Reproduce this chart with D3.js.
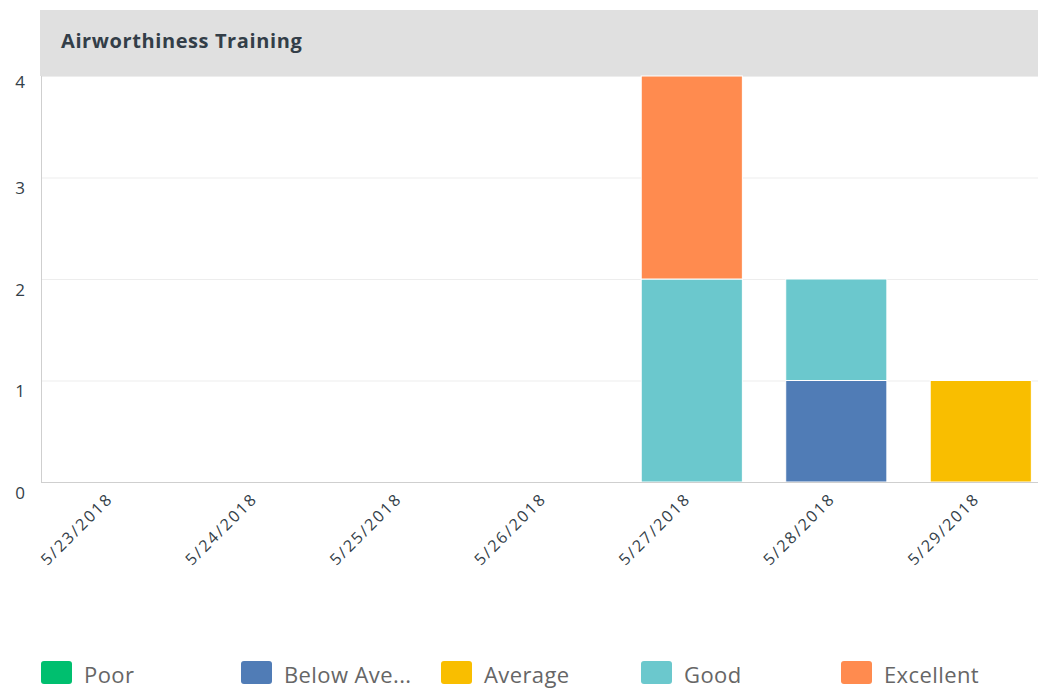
<!DOCTYPE html>
<html>
<head>
<meta charset="utf-8">
<script src="https://cdn.jsdelivr.net/npm/d3@7"></script>
<style>
  body { margin: 0; background: #fff; }
  text { font-family: "Open Sans", "DejaVu Sans", sans-serif; }
</style>
</head>
<body>
<div id="chart"></div>
<script>
// data
const dates = ["5/23/2018", "5/24/2018", "5/25/2018", "5/26/2018", "5/27/2018", "5/28/2018", "5/29/2018"];
const ratings = ["Poor", "Below Average", "Average", "Good", "Excellent"];
const legendLabels = ["Poor", "Below Ave...", "Average", "Good", "Excellent"];
const poor         = [0, 0, 0, 0, 0, 0, 0];
const belowAverage = [0, 0, 0, 0, 0, 1, 0];
const average      = [0, 0, 0, 0, 0, 0, 1];
const good         = [0, 0, 0, 0, 2, 1, 0];
const excellent    = [0, 0, 0, 0, 2, 0, 0];
const yTicks = [0, 1, 2, 3, 4];
const colors = ["#00bf6f", "#507cb6", "#f9be00", "#6bc8cd", "#ff8b4f"];

(function() {
    const width = 1038, height = 689;
    const left = 41, right = 1038, top = 76, bottom = 482;

    const svg = d3.select("#chart")
    .append("svg")
    .attr("width", width)
    .attr("height", height);

    const rows = dates.map((d, i) => ({
        date: d,
        "Poor": poor[i],
        "Below Average": belowAverage[i],
        "Average": average[i],
        "Good": good[i],
        "Excellent": excellent[i]
    }));

    const stack = d3.stack().keys(ratings)(rows);

    const xScale = d3.scaleBand()
    .domain(dates)
    .range([left, right])
    .paddingInner(0.3)
    .paddingOuter(0.1)
    .align(0.77);

    const yScale = d3.scaleLinear()
    .domain([0, 4])
    .range([bottom, top]);

    const color = d3.scaleOrdinal().domain(ratings).range(colors);

    // header band
    svg.append("rect")
    .attr("x", 40).attr("y", 10)
    .attr("width", width - 40).attr("height", top - 10)
    .attr("fill", "#e0e0e0");

    svg.append("text")
    .attr("x", 61).attr("y", 48)
    .attr("font-size", 20)
    .attr("font-weight", "bold")
    .attr("letter-spacing", 0.6)
    .attr("fill", "#333e48")
    .text("Airworthiness Training");

    // grid
    svg.append("g")
    .selectAll("line")
    .data(yTicks.filter(t => t > 0))
    .join("line")
    .attr("x1", left).attr("x2", right)
    .attr("y1", d => yScale(d) + 0.5).attr("y2", d => yScale(d) + 0.5)
    .attr("stroke", "#ededed");

    // y labels
    svg.append("g")
    .selectAll("text")
    .data(yTicks)
    .join("text")
    .attr("x", 20)
    .attr("y", d => yScale(d) + (d === 4 ? 6 : 11))
    .attr("dy", "0.35em")
    .attr("text-anchor", "middle")
    .attr("font-size", 17)
    .attr("fill", "#333e48")
    .text(d => d);

    // bars
    svg.append("g")
    .selectAll("g")
    .data(stack)
    .join("g")
    .attr("fill", d => color(d.key))
    .selectAll("rect")
    .data(d => d.filter(s => s[1] > s[0]))
    .join("rect")
    .attr("x", d => xScale(d.data.date))
    .attr("y", d => yScale(d[1]))
    .attr("width", xScale.bandwidth())
    .attr("height", d => yScale(d[0]) - yScale(d[1]))
    .attr("stroke", "#fff")
    .attr("stroke-width", 1);

    // axes lines
    svg.append("line")
    .attr("x1", left + 0.5).attr("x2", left + 0.5)
    .attr("y1", top).attr("y2", bottom)
    .attr("stroke", "#cfcfcf");

    svg.append("line")
    .attr("x1", left).attr("x2", right)
    .attr("y1", bottom + 0.5).attr("y2", bottom + 0.5)
    .attr("stroke", "#cfcfcf");

    // x labels
    const xAxis = svg.append("g")
    .attr("transform", `translate(0, ${bottom})`)
    .call(d3.axisBottom(xScale).tickSize(0).tickPadding(0));
    xAxis.select(".domain").remove();
    xAxis.selectAll("text")
    .attr("font-family", "\"Open Sans\", sans-serif")
    .attr("font-size", 16)
    .attr("letter-spacing", 2)
    .attr("fill", "#333e48")
    .attr("text-anchor", "end")
    .attr("dy", "0.35em")
    .attr("transform", "translate(-4, 14) rotate(-45)");

    // legend
    const legend = svg.append("g")
    .selectAll("g")
    .data(ratings)
    .join("g")
    .attr("transform", (d, i) => `translate(${41 + i * 200}, 661)`);

    legend.append("rect")
    .attr("width", 31).attr("height", 23)
    .attr("rx", 3)
    .attr("fill", d => color(d));

    legend.append("text")
    .attr("x", 43).attr("y", 22)
    .attr("font-size", 22)
    .attr("letter-spacing", 0.4)
    .attr("fill", "#666")
    .text((d, i) => legendLabels[i]);
})();
</script>
</body>
</html>
